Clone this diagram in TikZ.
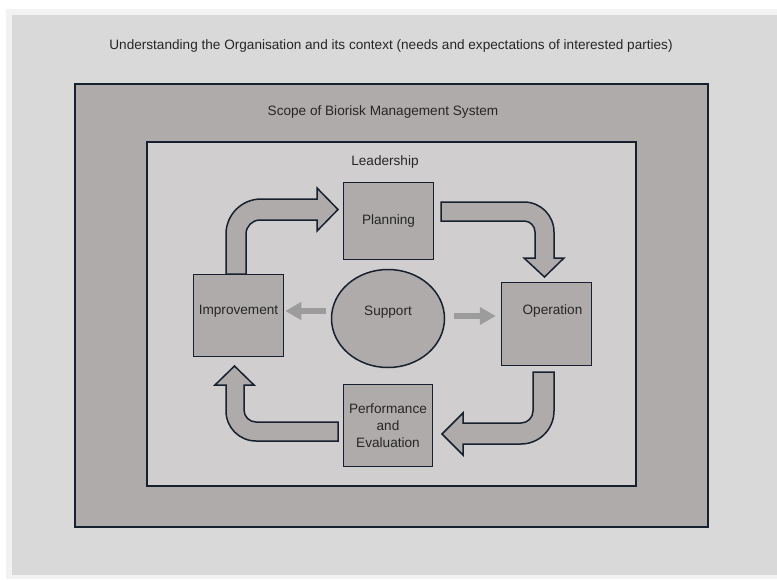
\documentclass[tikz,border=0pt]{standalone}
\usepackage{fontspec}
\setmainfont{Liberation Sans}
\usetikzlibrary{arrows.meta,shapes.geometric}

\begin{document}
\begin{tikzpicture}[x=1pt, y=-1pt,
    box/.style={draw=borderColour, fill=boxColour, line width=1.5pt, inner sep=0pt,
        text=textColour, font=\fontsize{13.6}{17}\selectfont},
    blockarrow/.style={draw=borderColour, fill=boxColour, line width=1.5pt},
    supportarrow/.style={draw=arrowColour, line width=6pt, -{Triangle[length=16pt,width=17pt]}},
    caption/.style={text=textColour, font=\fontsize{13.6}{16}\selectfont}]
    % Define colours
    \definecolor{borderColour}{HTML}{17202E}
    \definecolor{boxColour}{HTML}{AFABAB}
    \definecolor{innerColour}{HTML}{D0CECE}
    \definecolor{pageColour}{HTML}{D9D9D9}
    \definecolor{edgeColour}{HTML}{F2F2F2}
    \definecolor{arrowColour}{HTML}{9C9C9C}
    \definecolor{textColour}{HTML}{262626}

    % Page background
    \useasboundingbox (0,0) rectangle (777,579);
    \fill[white] (0,0) rectangle (777,579);
    \fill[edgeColour] (6,9) rectangle (777,579);
    \fill[pageColour] (12,15) rectangle (777,575);

    % Context, scope and leadership frames
    \node[caption] (context) at (391,46) {Understanding the Organisation and its context (needs and expectations of interested parties)};
    \filldraw[fill=boxColour, draw=borderColour, line width=2pt] (75,84) rectangle (708,527);
    \node[caption] (scope) at (383,112) {Scope of Biorisk Management System};
    \filldraw[fill=innerColour, draw=borderColour, line width=2pt] (147,142) rectangle (636,486);
    \node[caption] (leadership) at (385,162) {Leadership};

    % Draw the four stages and support
    \node[box, minimum width=90pt, minimum height=77pt] (planning) at (388.5,221) {Planning};
    \node[box, minimum width=90pt, minimum height=82pt, text depth=11pt] (improvement) at (238.5,315.5) {Improvement};
    \node[box, minimum width=90pt, minimum height=83pt, text depth=28pt, xshift=6pt] (operation) at (540.5,324) {\hspace*{12pt}Operation};
    \node[box, minimum width=89pt, minimum height=82pt, align=center] (performance) at (388,425.5) {Performance\\and\\Evaluation};
    \node[box, ellipse, minimum width=113pt, minimum height=98pt, text depth=15pt] (support) at (388,318.5) {Support};

    % Support feeds improvement and operation
    \draw[supportarrow] ([shift={(-5,-7.5)}]support.west) -- ([shift={(1,-4.5)}]improvement.east);
    \draw[supportarrow] ([shift={(9,-2.5)}]support.east) -- ([shift={(-5,-8)}]operation.west);

    % Block arrows round the cycle
    \filldraw[blockarrow] (226,274) -- (226,234) .. controls (226,214.7) and (241.7,199) .. (261,199)
        -- (317,199) -- (317,188) -- (338,209.5) -- (317,231) -- (317,220) -- (260,220)
        .. controls (252.3,220) and (246,226.3) .. (246,234) -- (246,274) -- cycle;
    \filldraw[blockarrow] (441,202) -- (524,202) .. controls (540.6,202) and (554,215.4) .. (554,232)
        -- (554,258) -- (564,258) -- (544.5,277) -- (524,258) -- (535,258) -- (535,232)
        .. controls (535,225.9) and (530.1,221) .. (524,221) -- (441,221) -- cycle;
    \filldraw[blockarrow] (533,372) -- (554,372) -- (554,411) .. controls (554,429.2) and (539.2,444) .. (521,444)
        -- (463,444) -- (463,455) -- (442,434) -- (463,413) -- (463,423) -- (521,423)
        .. controls (527.6,423) and (533,417.6) .. (533,411) -- cycle;
    \filldraw[blockarrow] (338,422) -- (256,422) .. controls (249.4,422) and (244,416.6) .. (244,410)
        -- (244,385) -- (254,385) -- (234.5,366) -- (215,385) -- (226,385) -- (226,411)
        .. controls (226,427.6) and (239.4,441) .. (256,441) -- (338,441) -- cycle;

\end{tikzpicture}
\end{document}
